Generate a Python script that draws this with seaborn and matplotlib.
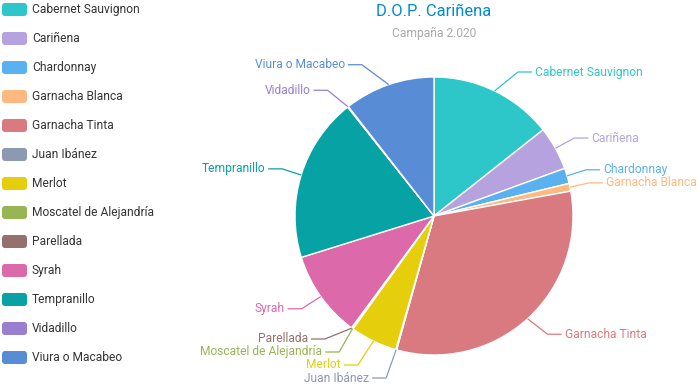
import numpy as np
import matplotlib
matplotlib.use("Agg")
import matplotlib.pyplot as plt
from matplotlib.patches import FancyBboxPatch
import seaborn as sns

# ---- data ----
categories = ["Cabernet Sauvignon", "Cariñena", "Chardonnay", "Garnacha Blanca",
              "Garnacha Tinta", "Juan Ibánez", "Merlot", "Moscatel de Alejandría",
              "Parellada", "Syrah", "Tempranillo", "Vidadillo", "Viura o Macabeo"]
values = [14.4, 5.1, 1.8, 0.9, 32.3, 0.1, 5.5, 0.1, 0.1, 10.1, 19.2, 0.1, 10.6]
title = "D.O.P. Cariñena"
subtitle = "Campaña 2.020"

palette_hex = ['#2ec7c9', '#b6a2de', '#5ab1ef', '#ffb980', '#d87a80', '#8d98b3',
               '#e5cf0d', '#97b552', '#95706d', '#dc69aa', '#07a2a4', '#9a7fd1',
               '#588dd5']

sns.set_theme(style="white")
palette = sns.color_palette(palette_hex)
plt.rcParams['font.family'] = ['Roboto', 'DejaVu Sans']

W, H = 698, 386
fig = plt.figure(figsize=(W / 100, H / 100), dpi=100)
ax = fig.add_axes([0, 0, 1, 1])

def Y(y):
    return H - y

CX, CY, R = 434, 216, 139
ax.pie(values, colors=palette, startangle=90, counterclock=False,
       center=(CX, Y(CY)), radius=R,
       wedgeprops=dict(edgecolor='white', linewidth=1))
ax.set_xlim(0, W)
ax.set_ylim(0, H)
ax.set_aspect('auto')
ax.axis('off')

px = 0.72  # px -> pt

# ---- labels with leader lines ----
vals = np.array(values, dtype=float)
cum = np.cumsum(vals) / vals.sum() * 360.0
start = np.concatenate([[0], cum[:-1]])
mid = np.radians((start + cum) / 2)

RE = 160      # radius used for initial label height
RA, RB = 158, 170  # ellipse for horizontal placement of elbows
LEN2 = 14
GAP = 3
SPACING = 13
YMIN, YMAX = 8, H - 8

labels = []
for i, th in enumerate(mid):
    s, c = np.sin(th), np.cos(th)
    labels.append(dict(i=i, side=1 if s >= 0 else -1,
                       ex=CX + R * s, ey=CY - R * c,
                       ky=CY - RE * c))

for side in (1, -1):
    grp = sorted([l for l in labels if l['side'] == side], key=lambda l: l['ky'])
    ys = [l['ky'] for l in grp]
    # push down
    for k in range(1, len(ys)):
        ys[k] = max(ys[k], ys[k - 1] + SPACING)
    # clamp at bottom, push back up
    if ys[-1] > YMAX:
        ys[-1] = YMAX
        for k in range(len(ys) - 2, -1, -1):
            ys[k] = min(ys[k], ys[k + 1] - SPACING)
    for l, y in zip(grp, ys):
        dy = y - CY
        dx = RA * np.sqrt(max(1 - dy * dy / (RB * RB), 0))
        l['kx'] = CX + side * dx
        l['ky'] = y

for l in labels:
    col = palette[l['i']]
    side = l['side']
    hx = l['kx'] + side * LEN2
    ax.plot([l['ex'], l['kx'], hx], [Y(l['ey']), Y(l['ky']), Y(l['ky'])],
            color=col, lw=0.9, solid_capstyle='butt')
    ax.text(hx + side * GAP, Y(l['ky']), categories[l['i']], color=col,
            fontsize=12 * px, ha='left' if side > 0 else 'right', va='center')

# ---- title ----
ax.text(CX, Y(11), title, color='#008acd', fontsize=16.5 * px,
        ha='center', va='center')
ax.text(CX, Y(33), subtitle, color='#aaaaaa', fontsize=12 * px,
        ha='center', va='center')

# ---- legend ----
for i, name in enumerate(categories):
    yc = 9.5 + 29 * i
    ax.add_patch(FancyBboxPatch((2, Y(yc + 6.5)), 25, 13,
                                boxstyle="round,pad=0,rounding_size=3",
                                facecolor=palette[i], edgecolor='none'))
    ax.text(32, Y(yc), name, color='#333333', fontsize=12 * px,
            ha='left', va='center')

fig.savefig("out.png", dpi=100)
